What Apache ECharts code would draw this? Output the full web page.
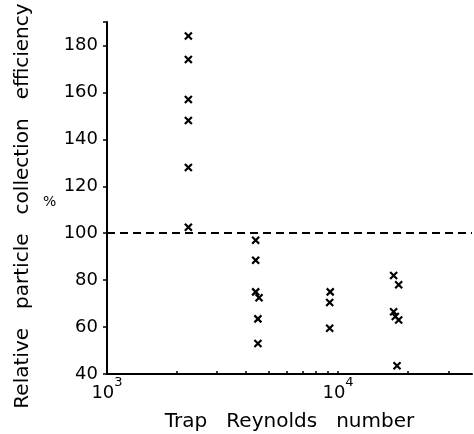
<!DOCTYPE html>
<html>
<head>
<meta charset="utf-8">
<script src="https://cdn.jsdelivr.net/npm/echarts@6/dist/echarts.min.js"></script>
<style>
	html, body { margin: 0; padding: 0; background: #ffffff; }
	#main { width: 474px; height: 434px; }
</style>
</head>
<body>
<div id="main"></div>
<script>
// Trap Reynolds number for each measurement
var reynolds = [2250, 2250, 2250, 2250, 2250, 2250,
		4400, 4400, 4400, 4550, 4500, 4500,
		9250, 9200, 9200,
		17400, 18300, 17400, 17700, 18300, 18000];
// relative particle collection efficiency, %
var efficiency = [184, 174, 157, 148, 128, 102.5,
		97, 88.5, 75, 72.5, 63.5, 53,
		75, 70.5, 59.5,
		82, 78, 66.5, 64.5, 63, 43.5];
var xTicks = [2000, 3000, 4000, 5000, 6000, 7000, 8000, 9000, 10000, 20000, 30000];
var xLabels = [1000, 10000];
var referenceLine = 100;

function createChart(demoId) {
	var myChart = echarts.init(document.getElementById(demoId));
	var points = [];
	for (var i = 0; i < reynolds.length; i++) {
		points.push([reynolds[i], efficiency[i]]);
	}
	var font = 'DejaVu Sans';
	var option = {
		animation : false,
		backgroundColor : '#ffffff',
		grid : {
			left : 107,
			right : 2,
			top : 22,
			bottom : 60,
			outerBoundsMode : 'none'
		},
		xAxis : {
			type : 'log',
			logBase : 10,
			min : 1000,
			max : 38000,
			name : 'Trap   Reynolds   number',
			nameLocation : 'middle',
			nameGap : 38,
			nameTextStyle : {
				fontFamily : font,
				fontSize : 20,
				color : '#000'
			},
			axisLine : {
				lineStyle : { color : '#000', width : 2 }
			},
			axisTick : {
				show : true,
				inside : true,
				length : 3,
				customValues : xTicks,
				lineStyle : { color : '#000', width : 1.5 }
			},
			axisLabel : {
				customValues : xLabels,
				margin : 2,
				color : '#000',
				formatter : function(v) {
					return '{b|10}{s|' + Math.round(Math.log10(v)) + '}';
				},
				rich : {
					b : { fontFamily : font, fontSize : 18, color : '#000', verticalAlign : 'bottom', lineHeight : 26 },
					s : { fontFamily : font, fontSize : 13, color : '#000', verticalAlign : 'top', lineHeight : 26 }
				}
			},
			splitLine : { show : false },
			minorTick : { show : false }
		},
		yAxis : {
			type : 'value',
			min : 40,
			max : 190,
			interval : 20,
			name : 'Relative   particle   collection   efficiency',
			nameLocation : 'middle',
			nameGap : 74,
			nameTextStyle : {
				fontFamily : font,
				fontSize : 20,
				color : '#000',
				padding : [0, 0, 0, -16]
			},
			axisLine : {
				show : true,
				lineStyle : { color : '#000', width : 2 }
			},
			axisTick : {
				show : true,
				inside : false,
				length : 4,
				lineStyle : { color : '#000', width : 1.5 }
			},
			axisLabel : {
				margin : 9,
				fontFamily : font,
				fontSize : 18,
				color : '#000',
				formatter : function(v) {
					return v % 20 === 0 ? String(v) : '';
				}
			},
			splitLine : { show : false }
		},
		graphic : [ {
			type : 'text',
			left : 43,
			top : 195,
			style : {
				text : '%',
				fontFamily : font,
				fontSize : 14,
				fill : '#000'
			}
		} ],
		series : [ {
			type : 'scatter',
			data : points,
			symbol : 'path://M0,0L10,10M10,0L0,10',
			symbolSize : 7,
			itemStyle : {
				color : 'none',
				borderColor : '#000',
				borderWidth : 2.2,
				opacity : 1
			},
			markLine : {
				silent : true,
				symbol : 'none',
				label : { show : false },
				lineStyle : { color : '#000', width : 2, type : [8, 5] },
				data : [ { yAxis : referenceLine } ]
			}
		} ]
	};
	myChart.setOption(option);
}
createChart('main');
</script>
</body>
</html>
